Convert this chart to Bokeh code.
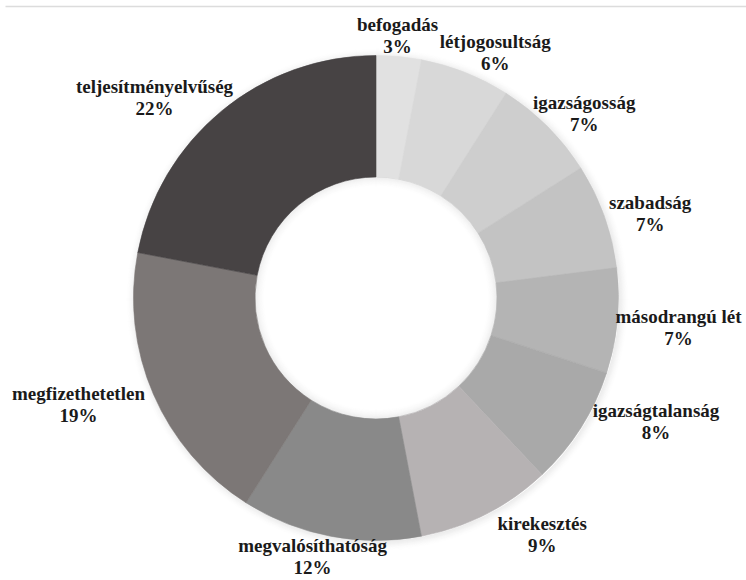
import math
from bokeh.plotting import figure
from bokeh.models import Range1d
from bokeh.core.properties import value
from bokeh.embed import file_html
from bokeh.resources import INLINE

# ---- data ----
categories = ["befogadás", "létjogosultság", "igazságosság", "szabadság",
              "másodrangú lét", "igazságtalanság", "kirekesztés",
              "megvalósíthatóság", "megfizethetetlen", "teljesítményelvűség"]
shares = [3, 6, 7, 7, 7, 8, 9, 12, 19, 22]

# ---- style ----
colors = ["#e1e1e1", "#d8d8d8", "#cecece", "#c3c3c3", "#b4b4b4",
          "#a9a9a9", "#b6b2b3", "#898989", "#7c7776", "#474344"]
# label placement: distance from centre and angular nudge (deg) from slice mid-angle
label_r = [263, 273, 278, 287, 304, 306, 289, 266, 316, 299]
label_nudge = [0.7, -4.3, -3.5, -2.6, -0.2, 8.6, 8.1, -3.0, -3.7, 8.2]

W, H = 746, 580
cx, cy = 375.5, 282.5
R_OUT, R_IN = 242.5, 121.0
FONT = "Times"
FS = "19px"

p = figure(width=W, height=H, x_range=Range1d(0, W), y_range=Range1d(0, H),
           output_backend="svg", toolbar_location=None,
           x_axis_location=None, y_axis_location=None, min_border=0)
p.grid.visible = False
p.outline_line_color = None
p.background_fill_color = "white"
p.border_fill_color = "white"

# top rule
p.line(x=[5, W], y=[H - 6, H - 6], line_color="#dcdcdc", line_width=1.5)

# soft outer shadow
n = 10
for i in range(n):
    p.annulus(x=cx + 1.5, y=cy - 1.5, inner_radius=R_OUT - 1 + i, outer_radius=R_OUT + i,
              fill_color="black", fill_alpha=0.08 * (1 - i / n) ** 1.5, line_color=None)

total = float(sum(shares))
starts, ends, mids = [], [], []
cum = 0.0
for v in shares:
    a0 = math.pi / 2 - 2 * math.pi * cum / total
    cum += v
    a1 = math.pi / 2 - 2 * math.pi * cum / total
    starts.append(a0)
    ends.append(a1)
    mids.append((a0 + a1) / 2)

p.annular_wedge(x=cx, y=cy, inner_radius=R_IN, outer_radius=R_OUT,
                start_angle=starts, end_angle=ends, direction="clock",
                fill_color=colors, line_color=colors, line_width=0.6)

# inner shadow in the hole
for i in range(n):
    p.annulus(x=cx, y=cy, inner_radius=R_IN - i - 1, outer_radius=R_IN - i,
              fill_color="black", fill_alpha=0.07 * (1 - i / n) ** 1.5, line_color=None)

lx, ly = [], []
for m, r, d in zip(mids, label_r, label_nudge):
    a = m + math.radians(d)
    lx.append(cx + r * math.cos(a))
    ly.append(cy + r * math.sin(a))

pct = [f"{v}%" for v in shares]
p.text(x=lx, y=[y + 11 for y in ly], text=categories, text_align="center",
       text_baseline="middle", text_font=value(FONT), text_font_style="bold",
       text_font_size=FS, text_color="#1a1a1a")
p.text(x=lx, y=[y - 11 for y in ly], text=pct, text_align="center",
       text_baseline="middle", text_font=value(FONT), text_font_style="bold",
       text_font_size=FS, text_color="#1a1a1a")

open("out.html", "w").write(file_html(p, INLINE))
